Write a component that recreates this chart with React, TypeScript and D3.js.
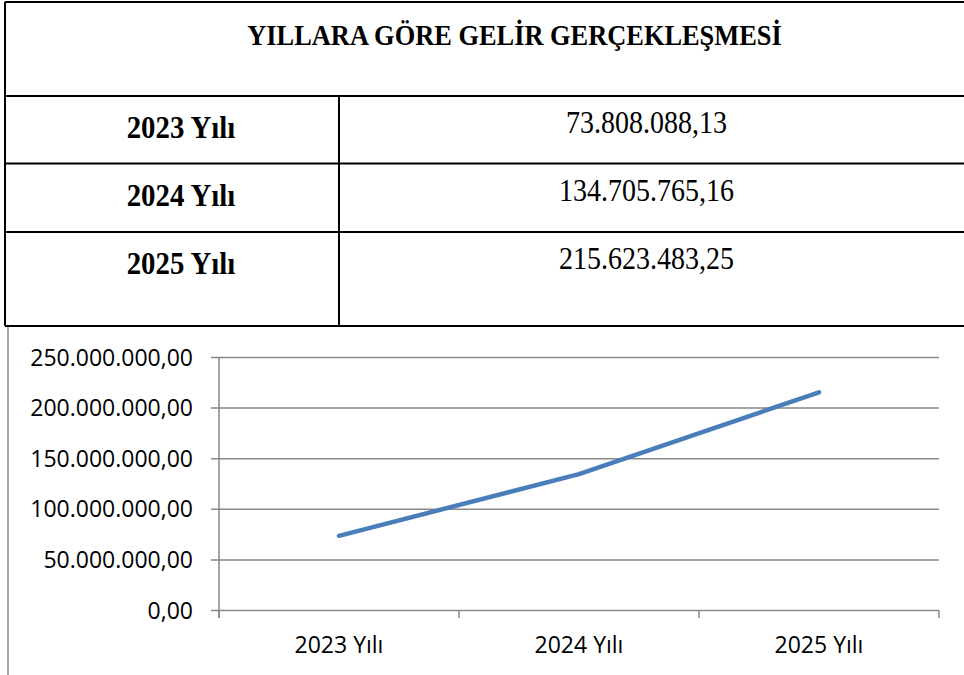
import React from "react";
import * as d3 from "d3";

const title = "YILLARA GÖRE GELİR GERÇEKLEŞMESİ";
const years = ["2023 Yılı", "2024 Yılı", "2025 Yılı"];
const values = [73808088.13, 134705765.16, 215623483.25];
const valueLabels = ["73.808.088,13", "134.705.765,16", "215.623.483,25"];
const yTicks = [0, 50000000, 100000000, 150000000, 200000000, 250000000];

const W = 964;
const H = 675;

const fmt = (v: number) => {
  const s = v.toFixed(2);
  const [i, d] = s.split(".");
  return i.replace(/\B(?=(\d{3})+(?!\d))/g, ".") + "," + d;
};

export default function App() {
  // table geometry
  const tLeft = 5;
  const tRight = 1024;
  const divX = 339;
  const rowLines = [2, 96, 163.5, 232, 326];

  // chart geometry
  const plotL = 219;
  const plotR = 939;
  const y = d3.scaleLinear().domain([0, 250000000]).range([610.5, 357.5]);
  const x = d3.scaleBand().domain(years).range([plotL, plotR]).padding(0);
  const line = d3
    .line<number>()
    .x((_, i) => (x(years[i]) as number) + x.bandwidth() / 2)
    .y((d) => y(d));

  const serif = "'Liberation Serif', 'Times New Roman', serif";
  const sans = "'Open Sans', 'Liberation Sans', sans-serif";
  const tickEdges = [...years.map((c) => x(c) as number), plotR];
  const sy = 1.12;

  return (
    <svg
      width={W}
      height={H}
      style={{ position: "absolute", left: 0, top: 0, background: "#fff" }}
    >
      {/* table */}
      <g stroke="#000" strokeWidth={2} fill="none">
        {rowLines.map((ly, i) => (
          <line key={i} x1={tLeft} x2={tRight} y1={ly} y2={ly} />
        ))}
        <line x1={tLeft} x2={tLeft} y1={rowLines[0]} y2={rowLines[4]} />
        <line x1={divX} x2={divX} y1={rowLines[1]} y2={rowLines[4]} />
      </g>
      <g transform={`translate(514.5,45) scale(1,${sy})`}>
        <text
          x={0}
          y={0}
          textAnchor="middle"
          fontFamily={serif}
          fontWeight="bold"
          fontSize={26.4}
          fill="#000"
        >
          {title}
        </text>
      </g>
      {years.map((yr, i) => (
        <g key={yr}>
          <g transform={`translate(181,${rowLines[i + 1] + 42}) scale(1.03,${sy})`}>
            <text
              x={0}
              y={0}
              textAnchor="middle"
              fontFamily={serif}
              fontWeight="bold"
              fontSize={28}
              fill="#000"
            >
              {yr}
            </text>
          </g>
          <g transform={`translate(646.5,${rowLines[i + 1] + 37}) scale(1,${sy})`}>
            <text
              x={0}
              y={0}
              textAnchor="middle"
              fontFamily={serif}
              fontSize={28}
              fill="#000"
            >
              {valueLabels[i]}
            </text>
          </g>
        </g>
      ))}

      {/* chart */}
      <line x1={8} x2={8} y1={327} y2={675} stroke="#888" strokeWidth={1.5} />
      <g stroke="#878787" strokeWidth={1.5}>
        {yTicks.map((t) => (
          <line key={t} x1={211} x2={plotR} y1={y(t)} y2={y(t)} />
        ))}
        <line x1={plotL} x2={plotL} y1={y(250000000)} y2={618} />
        {tickEdges.map((tx, i) => (
          <line key={i} x1={tx} x2={tx} y1={y(0)} y2={618} />
        ))}
      </g>
      {yTicks.map((t) => (
        <text
          key={t}
          x={193}
          y={y(t) + 8}
          textAnchor="end"
          fontFamily={sans}
          fontSize={23}
          fill="#000"
        >
          {fmt(t)}
        </text>
      ))}
      {years.map((yr) => (
        <text
          key={yr}
          x={(x(yr) as number) + x.bandwidth() / 2}
          y={653}
          textAnchor="middle"
          fontFamily={sans}
          fontSize={23}
          fill="#000"
        >
          {yr}
        </text>
      ))}
      <path
        d={line(values) as string}
        fill="none"
        stroke="#4A7EBB"
        strokeWidth={4.5}
        strokeLinecap="round"
        strokeLinejoin="round"
      />
    </svg>
  );
}
